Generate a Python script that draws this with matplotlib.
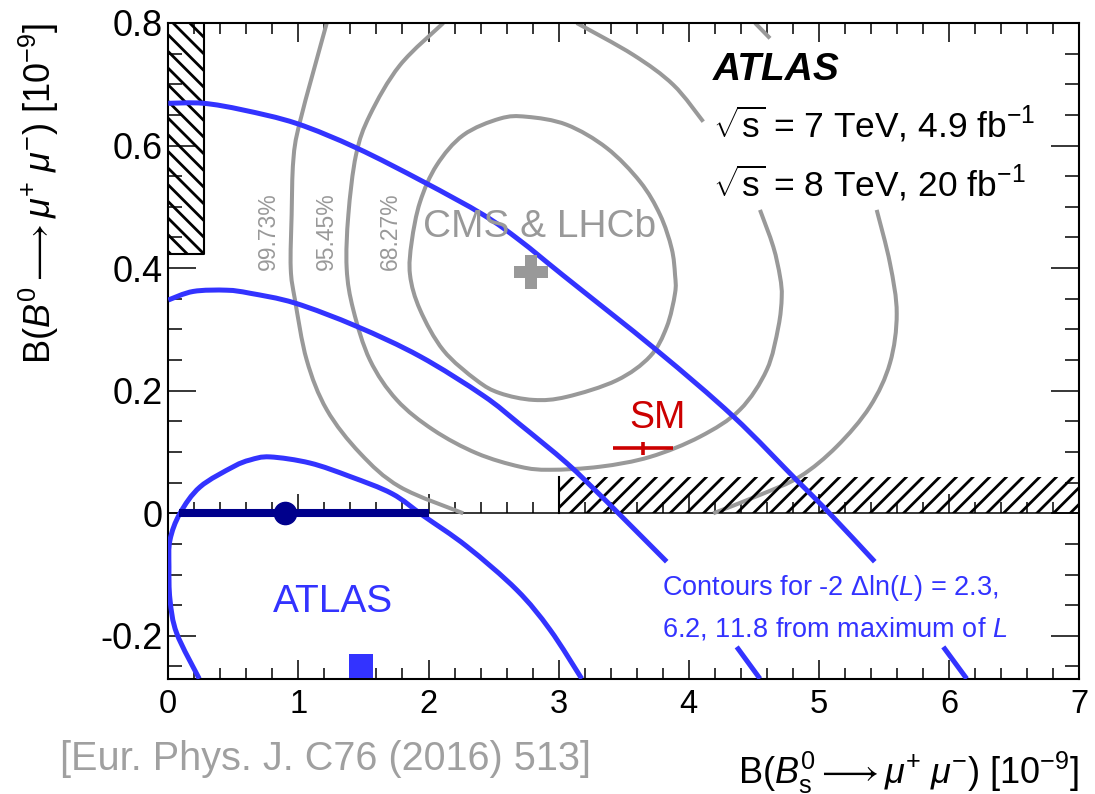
import numpy as np
import matplotlib
matplotlib.use('Agg')
import matplotlib.pyplot as plt
from matplotlib.ticker import MultipleLocator, FuncFormatter
from matplotlib.path import Path
from matplotlib.patches import PathPatch

plt.rcParams['font.family'] = ['Liberation Sans', 'DejaVu Sans']
plt.rcParams['mathtext.fontset'] = 'custom'
plt.rcParams['mathtext.rm'] = 'Liberation Sans'
plt.rcParams['mathtext.it'] = 'Liberation Sans:italic'
plt.rcParams['mathtext.bf'] = 'Liberation Sans:bold'
plt.rcParams['hatch.linewidth'] = 2.0

nan = np.nan

# ---------------- data ----------------
# CMS & LHCb contours (grey); NaN marks parts hidden by the text boxes
cms_6827_x = [1.858, 1.871, 1.935, 2.063, 2.267, 2.549, 2.755, 3.062, 3.37, 3.626, 3.78, 3.869, 3.895,
              3.895, 3.831, 3.703, 3.447, 3.062, 2.806, 2.549, 2.37, 2.114, 1.935, 1.858]
cms_6827_y = [0.389, 0.443, 0.508, 0.568, 0.617, 0.644, 0.647, 0.634, 0.596, 0.541, 0.487, 0.432, 0.389,
              0.359, 0.304, 0.256, 0.217, 0.19, 0.185, 0.196, 0.217, 0.266, 0.332, 0.389]

cms_9545_x = [2.114, 1.78, 1.55, 1.443, 1.384, 1.371, 1.422, 1.55, 1.756, 2.037, 2.37, 2.703, 2.934, 3.318,
              3.703, 4.087, 4.394, 4.6, 4.689, 4.715, 4.702, 4.65, 4.548,
              nan, 4.112, 3.882, 3.574, 3.139]
cms_9545_y = [0.80, 0.731, 0.65, 0.585, 0.487, 0.40, 0.332, 0.25, 0.185, 0.136, 0.098, 0.076, 0.071, 0.076,
              0.092, 0.125, 0.169, 0.234, 0.304, 0.353, 0.386, 0.435, 0.495,
              nan, 0.639, 0.699, 0.748, 0.80]

cms_9973_x = [1.218, 1.012, 0.961, 0.948, 0.941, 0.974, 1.064, 1.218, 1.474, 1.781, 2.267,
              nan, 4.51, 4.625,
              nan, 5.445, 5.547, 5.599, 5.547, 5.393, 5.138, 4.856, 4.548, 4.189]
cms_9973_y = [0.80, 0.639, 0.576, 0.487, 0.40, 0.348, 0.25, 0.169, 0.098, 0.043, 0.0,
              nan, 0.80, 0.775,
              nan, 0.495, 0.408, 0.326, 0.245, 0.174, 0.109, 0.06, 0.03, 0.0]

# ATLAS contours (blue) for -2 dlnL = 2.3, 6.2, 11.8
atl_23_x = [0.238, 0.065, 0.013, 0.005, 0.013, 0.09, 0.244, 0.5, 0.629, 0.782, 1.089, 1.397, 1.72,
            1.96, 2.294, 2.678, 2.934, 3.178]
atl_23_y = [-0.27, -0.196, -0.141, -0.087, -0.0435, 0.0, 0.043, 0.076, 0.087, 0.092, 0.082, 0.06, 0.032,
            -0.004, -0.054, -0.125, -0.19, -0.27]

atl_62_x = [0.0, 0.192, 0.449, 0.629, 0.974, 1.448, 1.935, 2.421, 2.703, 3.062, 3.318,
            3.46, 3.831, nan, 4.369, 4.548]
atl_62_y = [0.348, 0.362, 0.364, 0.359, 0.343, 0.305, 0.256, 0.192, 0.145, 0.082, 0.03,
            0.0, -0.079, nan, -0.218, -0.27]

atl_118_x = [0.0, 0.269, 0.576, 0.987, 1.448, 1.96, 2.421, 2.703, 3.036, 3.754, 4.343, 4.83, 5.06, 5.43,
             nan, 5.957, 6.137]
atl_118_y = [0.669, 0.669, 0.658, 0.636, 0.596, 0.541, 0.487, 0.445, 0.388, 0.266, 0.158, 0.054, 0.005, -0.079,
             nan, -0.218, -0.27]

# points
atlas_best = (0.9, 0.0)
atlas_err_lo, atlas_err_hi = 0.82, 1.10
atlas_marker = (1.479, -0.25)
cms_best = (2.785, 0.3945)
sm_point = (3.651, 0.106)
sm_xerr = 0.231
sm_yerr = 0.011

# excluded (hatched) regions: x0, x1, y0, y1
hatch_left = (0.0, 0.274, 0.423, 0.8)
hatch_right = (3.0, 7.0, 0.0, 0.06)

# percent labels
pct_labels = ['99.73%', '95.45%', '68.27%']
pct_x = [0.769, 1.217, 1.71]
pct_y = [0.461, 0.461, 0.461]

grey = '#999999'
blue = '#3333ff'
navy = '#00008c'
red = '#cc0000'


def smooth_path(xs, ys):
    """Smooth Bezier path drawn through the given points; NaN splits segments."""
    xs = np.asarray(xs, float)
    ys = np.asarray(ys, float)
    verts, codes = [], []
    breaks = np.where(np.isnan(xs))[0]
    starts = np.concatenate([[0], breaks + 1])
    ends = np.concatenate([breaks, [len(xs)]])
    for s, e in zip(starts, ends):
        P = np.column_stack([xs[s:e], ys[s:e]])
        n = len(P)
        if n < 2:
            continue
        closed = n > 3 and np.allclose(P[0], P[-1])
        verts.append(P[0]); codes.append(Path.MOVETO)
        for i in range(n - 1):
            if i > 0:
                p0 = P[i - 1]
            else:
                p0 = P[-2] if closed else P[i]
            if i + 2 < n:
                p3 = P[i + 2]
            else:
                p3 = P[1] if closed else P[i + 1]
            p1, p2 = P[i], P[i + 1]
            c1 = p1 + (p2 - p0) / 6.0
            c2 = p2 - (p3 - p1) / 6.0
            verts += [c1, c2, p2]
            codes += [Path.CURVE4] * 3
    return Path(np.array(verts), codes)


fig = plt.figure(figsize=(10.95, 7.94), dpi=100)
ax = fig.add_axes([168.3 / 1095, 1 - 679 / 794, (1079 - 168.3) / 1095, (679 - 23) / 794])
ax.set_xlim(0, 7)
ax.set_ylim(-0.2704, 0.8)

# grey contours
for cx, cy in [(cms_6827_x, cms_6827_y), (cms_9545_x, cms_9545_y), (cms_9973_x, cms_9973_y)]:
    ax.add_patch(PathPatch(smooth_path(cx, cy), facecolor='none', edgecolor=grey, lw=2.9, zorder=2,
                           capstyle='butt'))

# hatched regions
lx0, lx1, ly0, ly1 = hatch_left
ax.fill_between([lx0, lx1], ly0, ly1, hatch='\\\\', facecolor='none', edgecolor='k', linewidth=0, zorder=2.5)
ax.plot([lx0, lx1, lx1], [ly0, ly0, ly1], color='k', lw=1.5, zorder=2.5)
rx0, rx1, ry0, ry1 = hatch_right
ax.fill_between([rx0, rx1], ry0, ry1, hatch='//', facecolor='none', edgecolor='k', linewidth=0, zorder=2.5)
ax.plot([rx0, rx0], [ry0, ry1], color='k', lw=1.5, zorder=2.5)

# blue contours
for cx, cy in [(atl_23_x, atl_23_y), (atl_62_x, atl_62_y), (atl_118_x, atl_118_y)]:
    ax.add_patch(PathPatch(smooth_path(cx, cy), facecolor='none', edgecolor=blue, lw=3.6, zorder=3,
                           capstyle='butt'))

# ATLAS best fit
ax.errorbar([atlas_best[0]], [atlas_best[1]], xerr=[[atlas_err_lo], [atlas_err_hi]], fmt='o',
            color=navy, ms=16, elinewidth=5.8, capsize=0, zorder=4)
ax.plot([atlas_marker[0]], [atlas_marker[1]], marker='s', color=blue, ms=17, mew=0, zorder=4, clip_on=False)
ax.plot([cms_best[0]], [cms_best[1]], marker='P', color=grey, ms=25, mew=0, zorder=4)
ax.errorbar([sm_point[0]], [sm_point[1]], xerr=sm_xerr, yerr=sm_yerr, fmt='none', ecolor=red,
            elinewidth=2.6, capsize=0, zorder=4)

# secondary axis at y = 0
sec = ax.secondary_xaxis(0, transform=ax.transData)
sec.xaxis.set_major_locator(MultipleLocator(1))
sec.xaxis.set_minor_locator(MultipleLocator(0.2))
sec.tick_params(which='both', direction='in', labelbottom=False, width=1.1, color='k')
sec.tick_params(which='major', length=13.7)
sec.tick_params(which='minor', length=7.9)
for s in sec.spines.values():
    s.set_linewidth(1.1)

# axes styling
ax.xaxis.set_major_locator(MultipleLocator(1))
ax.xaxis.set_minor_locator(MultipleLocator(0.2))
ax.yaxis.set_major_locator(MultipleLocator(0.2))
ax.yaxis.set_minor_locator(MultipleLocator(0.05))
ax.tick_params(which='both', direction='in', top=True, right=True, width=1.1)
ax.tick_params(axis='x', which='major', length=13.7, pad=7, labelsize=23.5)
ax.tick_params(axis='x', which='minor', length=7.9)
ax.tick_params(axis='y', which='major', length=20, pad=4, labelsize=26)
ax.tick_params(axis='y', which='minor', length=10)
for s in ax.spines.values():
    s.set_linewidth(1.5)
ax.yaxis.set_major_formatter(FuncFormatter(lambda v, p: '0' if abs(v) < 1e-9 else f'{v:.1f}'))

ax.set_xlabel(r'B($B^0_\mathrm{s}\longrightarrow\mu^{+}\;\mu^{-}$) [10$^{-9}$]', fontsize=26, loc='right')
ax.xaxis.set_label_coords(1.0, -0.108)
ax.set_ylabel(r'B($B^0\longrightarrow\mu^{+}\;\mu^{-}$) [10$^{-9}$]', fontsize=26, loc='top')
ax.yaxis.set_label_coords(-0.118, 1.0)

# texts
ax.text(4.187, 0.707, 'ATLAS', fontsize=28, fontweight='bold', fontstyle='italic', zorder=6)
ax.text(4.187, 0.6125, r'$\sqrt{\mathrm{s}}$ = 7 TeV, 4.9 fb$^{-1}$', fontsize=25.5, zorder=6)
ax.text(4.187, 0.5164, r'$\sqrt{\mathrm{s}}$ = 8 TeV, 20 fb$^{-1}$', fontsize=25.5, zorder=6)
ax.text(1.96, 0.4513, 'CMS & LHCb', fontsize=28, color=grey, zorder=6)
ax.text(3.76, 0.1387, 'SM', fontsize=27, color=red, ha='center', zorder=6)
ax.text(0.805, -0.1605, 'ATLAS', fontsize=28, color=blue, zorder=6)
ax.text(3.792, -0.1333, r'Contours for -2 $\Delta$ln($L$) = 2.3,', fontsize=19.5, color=blue, zorder=6)
ax.text(3.792, -0.2013, r'6.2, 11.8 from maximum of $L$', fontsize=19.5, color=blue, zorder=6)
for t, px, py in zip(pct_labels, pct_x, pct_y):
    ax.text(px, py, t, fontsize=16.5, color=grey, rotation=90, ha='center', va='center', zorder=6)

fig.text(60 / 1095, 1 - 770 / 794, '[Eur. Phys. J. C76 (2016) 513]', fontsize=28.5, color='#a0a0a0')

fig.savefig('out.png', dpi=100)
